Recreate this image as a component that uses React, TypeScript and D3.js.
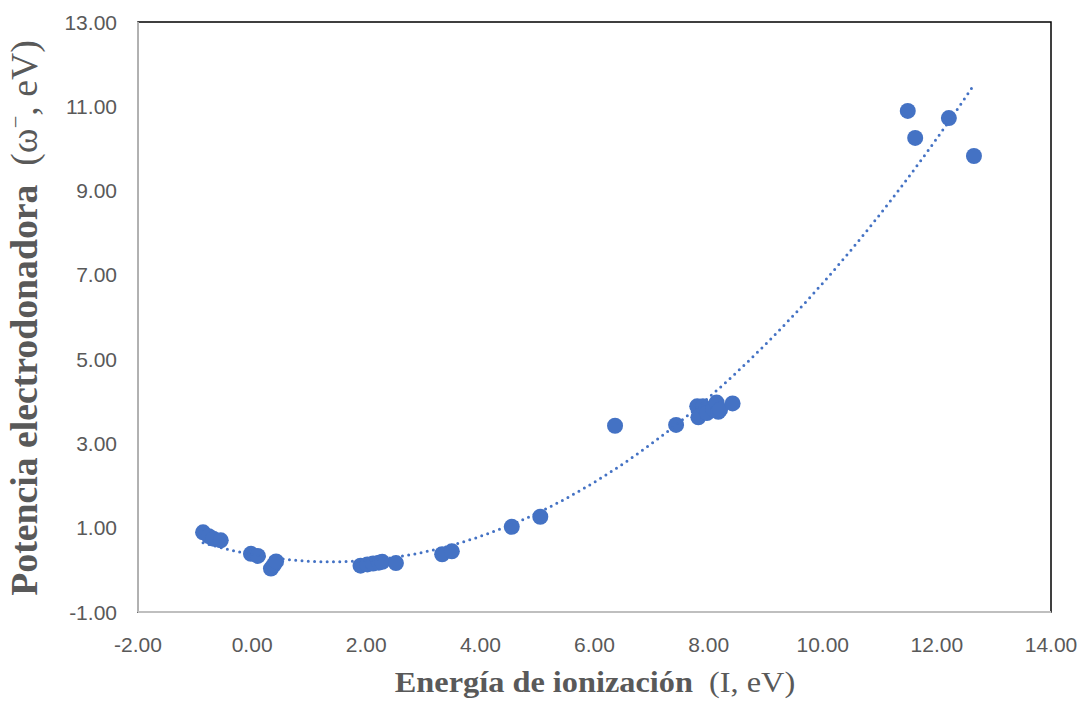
import React from "react";
import * as d3 from "d3";

const ionizationEnergy: number[] = [
  -0.86, -0.76, -0.68, -0.55,
  -0.02, 0.1, 0.33, 0.38, 0.42,
  1.9, 2.02, 2.12, 2.22, 2.28, 2.52,
  3.33, 3.5,
  4.55, 5.05,
  6.36, 7.43,
  7.8, 7.82, 7.9, 7.97, 8.08, 8.14, 8.17, 8.2, 8.42,
  11.49, 11.62, 12.21, 12.65,
];
const donorPower: number[] = [
  0.89, 0.8, 0.74, 0.7,
  0.38, 0.33, 0.03, 0.12, 0.2,
  0.1, 0.13, 0.15, 0.17, 0.19, 0.16,
  0.37, 0.44,
  1.02, 1.26,
  3.42, 3.44,
  3.88, 3.62, 3.88, 3.72, 3.82, 3.97, 3.75, 3.8, 3.95,
  10.89, 10.25, 10.72, 9.82,
];
// polynomial (order 2) trendline coefficients: y = a x^2 + b x + c
const trendCoefficients = { a: 0.0894, b: -0.25, c: 0.365 };

const xTicks = [-2, 0, 2, 4, 6, 8, 10, 12, 14];
const yTicks = [-1, 1, 3, 5, 7, 9, 11, 13];

const W = 1083;
const H = 703;
const left = 138;
const right = 1051;
const top = 22;
const bottom = 612;
const blue = "#4472C4";
const gray = "#595959";

export default function App() {
  const x = d3.scaleLinear().domain([-2, 14]).range([left, right]);
  const y = d3.scaleLinear().domain([-1, 13]).range([bottom, top]);

  const xMin = d3.min(ionizationEnergy) as number;
  const xMax = d3.max(ionizationEnergy) as number;
  const trendXs = d3.range(0, 201).map((i) => xMin + ((xMax - xMin) * i) / 200);
  const { a, b, c } = trendCoefficients;
  const line = d3
    .line<number>()
    .x((v) => x(v))
    .y((v) => y(a * v * v + b * v + c));

  const points = ionizationEnergy.map((v, i) => [v, donorPower[i]]);

  return (
    <svg
      width={W}
      height={H}
      style={{ position: "absolute", left: 0, top: 0, display: "block" }}
    >
      <rect x={0} y={0} width={W} height={H} fill="#fff" />
      <rect
        x={left}
        y={top}
        width={right - left}
        height={bottom - top}
        fill="#fff"
        stroke="#000"
        strokeWidth={1.5}
      />
      <line x1={left} x2={left} y1={top} y2={bottom} stroke="#BFBFBF" strokeWidth={1.8} />
      <line x1={left} x2={right} y1={bottom} y2={bottom} stroke="#BFBFBF" strokeWidth={1.8} />

      {yTicks.map((t) => (
        <text
          key={"y" + t}
          x={117}
          y={y(t) + 7.5}
          textAnchor="end"
          fontFamily="'Liberation Sans', Arial, sans-serif"
          fontSize={21}
          fill={gray}
        >
          {t.toFixed(2)}
        </text>
      ))}
      {xTicks.map((t) => (
        <text
          key={"x" + t}
          x={x(t)}
          y={652}
          textAnchor="middle"
          fontFamily="'Liberation Sans', Arial, sans-serif"
          fontSize={21}
          fill={gray}
        >
          {t.toFixed(2)}
        </text>
      ))}

      {points.map(([px, py], i) => (
        <circle key={i} cx={x(px)} cy={y(py)} r={8} fill={blue} />
      ))}

      <path
        d={line(trendXs) || ""}
        fill="none"
        stroke={blue}
        strokeWidth={3}
        strokeLinecap="round"
        strokeDasharray="0 6.3"
      />

      <text
        transform="translate(595, 692) scale(1.115, 1)"
        textAnchor="middle"
        fontFamily="'Liberation Serif', 'Times New Roman', serif"
        fontSize={29}
        fill={gray}
      >
        <tspan fontWeight="bold">Energía de ionización</tspan>
        <tspan xmlSpace="preserve">{"  (I, eV)"}</tspan>
      </text>

      <text
        transform="translate(37, 318) rotate(-90) scale(1.02, 1)"
        textAnchor="middle"
        fontFamily="'Liberation Serif', 'Times New Roman', serif"
        fontSize={37}
        fill={gray}
      >
        <tspan fontWeight="bold">Potencia electrodonadora</tspan>
        <tspan xmlSpace="preserve">{"  (ω"}</tspan>
        <tspan fontSize={22} dy={-14}>−</tspan>
        <tspan dy={14}>, eV)</tspan>
      </text>
    </svg>
  );
}
